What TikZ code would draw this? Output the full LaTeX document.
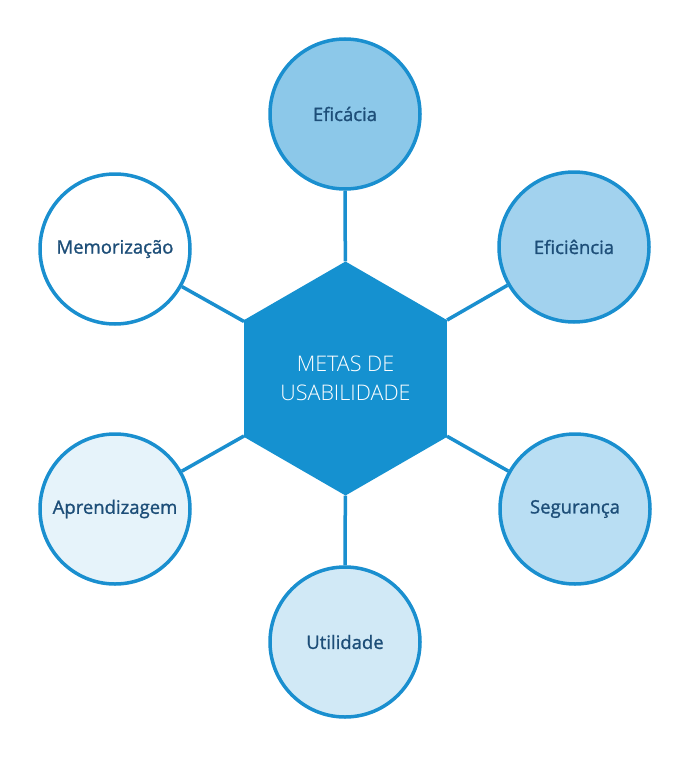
\documentclass[tikz,border=0pt]{standalone}
\usepackage{fontspec}
\setmainfont{Open Sans}
\IfFontExistsTF{Open Sans SemiBold}{\newfontfamily\semib{Open Sans SemiBold}}{\newfontfamily\semib[FakeBold=1.2]{Open Sans}}
\IfFontExistsTF{Open Sans Light}{\newfontfamily\lightf{Open Sans Light}}{\newfontfamily\lightf{Open Sans}}
\usetikzlibrary{shapes.geometric}
\definecolor{ringblue}{HTML}{1A8FCF}
\definecolor{hexblue}{HTML}{1591D0}
\definecolor{txtblue}{HTML}{1D4E78}
\definecolor{c1}{HTML}{8CC8E9}
\definecolor{c2}{HTML}{A2D2EE}
\definecolor{c3}{HTML}{B9DEF3}
\definecolor{c4}{HTML}{D1E9F6}
\definecolor{c5}{HTML}{E6F3FA}
\tikzset{
  goal/.style={circle, draw=ringblue, line width=3.5pt, minimum size=150pt, inner sep=0pt,
    font=\semib\fontsize{18.5pt}{22pt}\selectfont, text=txtblue},
  link/.style={draw=ringblue, line width=3.5pt},
  hexa/.style={regular polygon, regular polygon sides=6, shape border rotate=30,
    minimum size=234pt, inner sep=0pt, fill=hexblue, draw=none,
    font=\lightf\fontsize{21.5pt}{29pt}\selectfont, text=white, align=center}
}
\begin{document}
\begin{tikzpicture}[x=1pt,y=-1pt]
\useasboundingbox (0,0) rectangle (690,757);
\node[hexa] (hex) at (345.5,378.5) {METAS DE\\USABILIDADE};
\node[goal, fill=c1] (efic) at (345,114) {Eficácia};
\node[goal, fill=c2] (eficien) at (574,247) {Eficiência};
\node[goal, fill=c3] (seg) at (575,509) {Segurança};
\node[goal, fill=c4] (util) at (345,642) {Utilidade};
\node[goal, fill=c5] (apren) at (115,509) {Aprendizagem};
\node[goal, fill=white] (memo) at (115,249) {Memorização};
\draw[link] (hex) -- (efic);
\draw[link] (hex) -- (eficien);
\draw[link] (hex) -- (seg);
\draw[link] (hex) -- (util);
\draw[link] (hex) -- (apren);
\draw[link] (hex) -- (memo);
\end{tikzpicture}
\end{document}
